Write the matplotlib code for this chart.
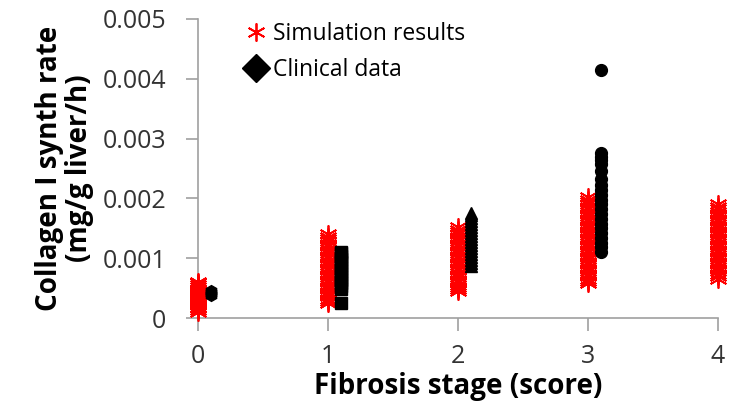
import matplotlib.pyplot as plt
from matplotlib.lines import Line2D

plt.rcParams['font.family'] = ['Open Sans', 'DejaVu Sans']

stages = [0, 1, 2, 3, 4]

# simulation results (mg/g liver/h), one column per fibrosis stage
sim_0 = [0.00010, 0.00013, 0.00016, 0.00019, 0.00022, 0.00025, 0.00028, 0.00031,
         0.00034, 0.00037, 0.00040, 0.00043, 0.00046, 0.00049, 0.00052, 0.00055,
         0.00058, 0.00060]
sim_1 = [0.00025, 0.00028, 0.00032, 0.00036, 0.00040, 0.00044, 0.00048, 0.00052,
         0.00056, 0.00060, 0.00064, 0.00068, 0.00072, 0.00076, 0.00080, 0.00084,
         0.00088, 0.00092, 0.00096, 0.00100, 0.00104, 0.00108, 0.00112, 0.00116,
         0.00120, 0.00124, 0.00128, 0.00132, 0.00136, 0.00140]
sim_2 = [0.00045, 0.00048, 0.00052, 0.00056, 0.00060, 0.00064, 0.00068, 0.00072,
         0.00076, 0.00080, 0.00084, 0.00088, 0.00092, 0.00096, 0.00100, 0.00104,
         0.00108, 0.00112, 0.00116, 0.00120, 0.00124, 0.00128, 0.00132, 0.00136,
         0.00140, 0.00144, 0.00148, 0.00152]
sim_3 = [0.00058, 0.00062, 0.00066, 0.00070, 0.00074, 0.00078, 0.00082, 0.00086,
         0.00090, 0.00094, 0.00098, 0.00102, 0.00106, 0.00110, 0.00114, 0.00118,
         0.00122, 0.00126, 0.00130, 0.00134, 0.00138, 0.00142, 0.00146, 0.00150,
         0.00154, 0.00158, 0.00162, 0.00166, 0.00170, 0.00174, 0.00178, 0.00182,
         0.00186, 0.00190, 0.00194, 0.00198, 0.00202]
sim_4 = [0.00066, 0.00070, 0.00074, 0.00078, 0.00082, 0.00086, 0.00090, 0.00094,
         0.00098, 0.00102, 0.00106, 0.00110, 0.00114, 0.00118, 0.00122, 0.00126,
         0.00130, 0.00134, 0.00138, 0.00142, 0.00146, 0.00150, 0.00154, 0.00158,
         0.00162, 0.00166, 0.00170, 0.00174, 0.00178, 0.00182, 0.00186, 0.00190]
sim_data = [sim_0, sim_1, sim_2, sim_3, sim_4]

# clinical data, plotted just right of each stage
clin_0 = [0.00038, 0.00042, 0.00045]
clin_1 = [0.00025, 0.00048, 0.00053, 0.00058, 0.00063, 0.00068, 0.00073, 0.00078,
          0.00083, 0.00088, 0.00093, 0.00098, 0.00103, 0.00108, 0.00111]
clin_2 = [0.00087, 0.00092, 0.00097, 0.00102, 0.00107, 0.00112, 0.00117, 0.00122,
          0.00127, 0.00132, 0.00137, 0.00142, 0.00147, 0.00152, 0.00157, 0.00162,
          0.00167, 0.00172, 0.00176]
clin_3 = [0.00110, 0.00118, 0.00126, 0.00134, 0.00142, 0.00150, 0.00158, 0.00166,
          0.00174, 0.00182, 0.00190, 0.00198, 0.00206, 0.00214, 0.00222, 0.00232,
          0.00245, 0.00258, 0.00264, 0.00270, 0.00276, 0.00415]
clin_data = [clin_0, clin_1, clin_2, clin_3]
clin_markers = ['h', 's', '^', 'o']
clin_offset = 0.1

fig = plt.figure(figsize=(7.29, 4.19), dpi=100)
ax = fig.add_axes([0.2716, 0.241, 0.7134, 0.7137])

asterisk = (6, 2, 0)
for s, vals in zip(stages, sim_data):
    ax.plot([s] * len(vals), vals, linestyle='none', marker=asterisk, color='red',
            markersize=13, markeredgewidth=1.3, clip_on=False, zorder=3)

for s, vals, m in zip(stages, clin_data, clin_markers):
    ax.plot([s + clin_offset] * len(vals), vals, linestyle='none', marker=m,
            color='black', markersize=8.5, clip_on=False, zorder=4)

ax.set_xlim(0, 4)
ax.set_ylim(0, 0.005)
ax.set_xticks(stages)
ax.set_yticks([0, 0.001, 0.002, 0.003, 0.004, 0.005])
ax.set_yticklabels(['0', '0.001', '0.002', '0.003', '0.004', '0.005'])

for side in ['top', 'right']:
    ax.spines[side].set_visible(False)
for side in ['left', 'bottom']:
    ax.spines[side].set_color('#a0a0a0')
    ax.spines[side].set_linewidth(1.2)
ax.tick_params(axis='both', colors='#a0a0a0', labelcolor='#333333', labelsize=18,
               length=9, width=1.2)
ax.tick_params(axis='x', pad=10)
ax.tick_params(axis='y', pad=14)

ax.set_xlabel('Fibrosis stage (score)', fontsize=20, fontweight='bold', labelpad=2)
ax.set_ylabel('Collagen I synth rate\n(mg/g liver/h)', fontsize=20, fontweight='bold',
              labelpad=6, linespacing=1.05)

handles = [
    Line2D([], [], linestyle='none', marker=asterisk, color='red', markersize=13,
           markeredgewidth=1.3, label='Simulation results'),
    Line2D([], [], linestyle='none', marker='D', color='black', markersize=14,
           label='Clinical data'),
]
ax.legend(handles=handles, loc='upper left', bbox_to_anchor=(0.045, 1.06),
          frameon=False, fontsize=16.5, handletextpad=0.15, labelspacing=0.55,
          handlelength=1.2)

fig.savefig('out.png', dpi=100)
